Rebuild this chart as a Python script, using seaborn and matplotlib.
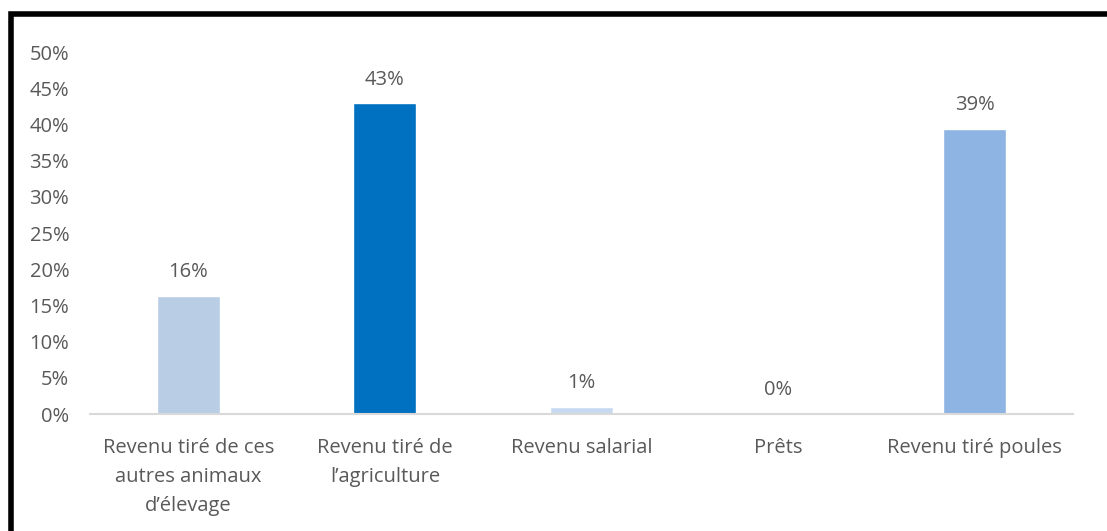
import matplotlib
matplotlib.use("Agg")
import matplotlib.pyplot as plt
import seaborn as sns
import pandas as pd
from matplotlib.patches import Rectangle

categories = ["Revenu tiré de ces\nautres animaux\nd’élevage",
              "Revenu tiré de\nl’agriculture",
              "Revenu salarial",
              "Prêts",
              "Revenu tiré poules"]
values = [0.163, 0.429, 0.01, 0.0, 0.394]
labels = ["16%", "43%", "1%", "0%", "39%"]
colors = ["#B9CDE5", "#0070C0", "#C6D9F1", "#C6D9F1", "#8EB4E3"]
yticks = [0, 0.05, 0.10, 0.15, 0.20, 0.25, 0.30, 0.35, 0.40, 0.45, 0.50]

sns.set_theme(style="white")
plt.rcParams['font.family'] = ['Open Sans', 'DejaVu Sans']
txt = "#595959"
fs = 14.5

df = pd.DataFrame({"cat": categories, "val": values})
fig = plt.figure(figsize=(11.07, 5.31), dpi=100)
ax = fig.add_axes([0.0813, 0.2203, 0.888, 0.6817])
sns.barplot(data=df, x="cat", y="val", hue="cat", palette=dict(zip(categories, colors)),
            legend=False, width=0.32, ax=ax, saturation=1)

ax.set_ylim(0, 0.5)
ax.set_xlim(-0.5, 4.5)
ax.set_yticks(yticks)
ax.set_yticklabels([f"{int(round(t*100))}%" for t in yticks], color=txt, fontsize=fs)
ax.tick_params(axis='y', length=0, pad=15)
ax.tick_params(axis='x', length=0, pad=17, labelsize=fs, labelcolor=txt)
for lab in ax.get_xticklabels():
    lab.set_linespacing(1.6)
ax.set_xlabel("")
ax.set_ylabel("")
for s in ["top", "right", "left"]:
    ax.spines[s].set_visible(False)
ax.spines["bottom"].set_color("#D9D9D9")
ax.spines["bottom"].set_linewidth(1.5)

for i, (v, l) in enumerate(zip(values, labels)):
    ax.annotate(l, (i, v), xytext=(0, 10), textcoords="offset points",
                ha="center", va="bottom", fontsize=fs, color=txt)

fig.patches.append(Rectangle((11/1107, -0.1), 1.2, 1 - 13.5/531 + 0.1,
                             transform=fig.transFigure, fill=False,
                             edgecolor="black", linewidth=4, zorder=10))
fig.savefig("out.png", dpi=100)
